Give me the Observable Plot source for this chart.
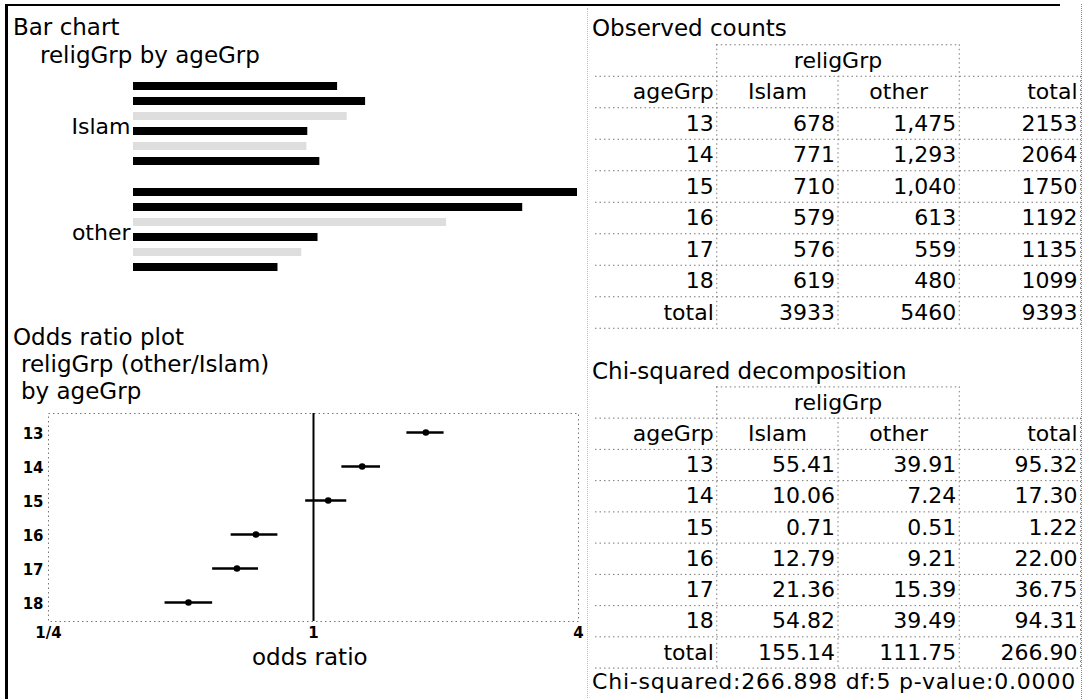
<!DOCTYPE html>
<html>
<head>
<meta charset="utf-8">
<script src="https://cdn.jsdelivr.net/npm/d3@7"></script>
<script src="https://cdn.jsdelivr.net/npm/@observablehq/plot@0.6"></script>
<style>
  body { margin: 0; background: #fff; }
  #page { position: relative; width: 1084px; height: 699px; overflow: hidden; background: #fff;
          font-family: "DejaVu Sans", sans-serif; color: #000; }
  .t { position: absolute; font-size: 23px; line-height: 24px; white-space: nowrap; }
  .p { position: absolute; }
  .p svg { overflow: visible; }
  .edge { position: absolute; }
</style>
</head>
<body>
<div id="page"></div>
<script>
// ---------------- data ----------------
const ageGroups = ["13", "14", "15", "16", "17", "18"];
const religGroups = ["Islam", "other"];
const islamCounts = [678, 771, 710, 579, 576, 619];
const otherCounts = [1475, 1293, 1040, 613, 559, 480];
const ageTotals = [2153, 2064, 1750, 1192, 1135, 1099];
const religTotals = [3933, 5460];
const grandTotal = 9393;

const chiIslam = [55.41, 10.06, 0.71, 12.79, 21.36, 54.82];
const chiOther = [39.91, 7.24, 0.51, 9.21, 15.39, 39.49];
const chiAgeTotals = [95.32, 17.30, 1.22, 22.00, 36.75, 94.31];
const chiReligTotals = [155.14, 111.75];
const chiGrandTotal = 266.90;
const chiSummary = "Chi-squared:266.898 df:5 p-value:0.0000";

const oddsRatio = [1.80, 1.29, 1.08, 0.74, 0.67, 0.52];
const oddsLow   = [1.63, 1.16, 0.96, 0.65, 0.59, 0.46];
const oddsHigh  = [1.98, 1.42, 1.19, 0.83, 0.75, 0.59];
const oddsTicks = [0.25, 1, 4];
const oddsTickLabels = ["1/4", "1", "4"];

const fadedAges = ["15", "17"];   // bars printed very faint in the reference

// ---------------- helpers ----------------
const page = document.getElementById("page");
const FONT = "DejaVu Sans, sans-serif";

function addText(txt, left, centerY, extra = "") {
  const d = document.createElement("div");
  d.className = "t";
  d.textContent = txt;
  d.style.left = left + "px";
  d.style.top = (centerY - 12) + "px";
  if (extra) d.style.cssText += extra;
  page.appendChild(d);
}
function addPlot(svg, left, top) {
  const d = document.createElement("div");
  d.className = "p";
  d.style.left = left + "px";
  d.style.top = top + "px";
  d.appendChild(svg);
  page.appendChild(d);
}
function addEdge(css) {
  const d = document.createElement("div");
  d.className = "edge";
  d.style.cssText = css;
  page.appendChild(d);
}

// ---------------- bar chart ----------------
const barData = religGroups.flatMap((g, gi) =>
  ageGroups.map((a, i) => ({relig: g, age: a, count: gi === 0 ? islamCounts[i] : otherCounts[i]})));

const barPlot = Plot.plot({
  width: 585, height: 290,
  marginTop: 76, marginBottom: 12, marginLeft: 133, marginRight: 8,
  x: {domain: [0, d3.max(otherCounts)], axis: null},
  y: {domain: ageGroups, axis: null, paddingInner: 0.45, paddingOuter: 0.225},
  fy: {domain: religGroups, padding: 0.103},
  style: {fontFamily: FONT, fontSize: "22px", background: "transparent", color: "#000"},
  marks: [
    Plot.barX(barData, {fy: "relig", y: "age", x: "count",
      fill: d => fadedAges.includes(d.age) ? "#dedede" : "#000"}),
    Plot.axisFy({anchor: "left", tickSize: 0, tickPadding: 3, label: null, fontSize: 22, dy: 3})
  ]
});
addPlot(barPlot, 0, 0);

// ---------------- odds ratio plot ----------------
const oddsData = ageGroups.map((a, i) => ({age: a, or: oddsRatio[i], lo: oddsLow[i], hi: oddsHigh[i]}));

const oddsPlot = Plot.plot({
  width: 585, height: 300,
  marginTop: 13, marginBottom: 79, marginLeft: 48, marginRight: 7,
  x: {type: "log", base: 2, domain: [0.25, 4]},
  y: {type: "band", domain: ageGroups, padding: 0},
  style: {fontFamily: FONT, background: "transparent", color: "#000"},
  marks: [
    Plot.frame({stroke: "#777", strokeDasharray: "1.5,3"}),
    Plot.ruleX([1], {stroke: "#000", strokeWidth: 2}),
    Plot.ruleY(oddsData, {y: "age", x1: "lo", x2: "hi", stroke: "#000", strokeWidth: 2.5}),
    Plot.dot(oddsData, {x: "or", y: "age", r: 3.3, fill: "#000"}),
    Plot.axisY({tickSize: 0, tickPadding: 5, label: null, fontSize: 15, fontWeight: "bold", dy: 2}),
    Plot.axisX({ticks: oddsTicks, tickFormat: d => oddsTickLabels[oddsTicks.indexOf(d)],
      tickSize: 0, tickPadding: 6, label: null, fontSize: 15, fontWeight: "bold"})
  ]
});
addPlot(oddsPlot, 0, 400);

// ---------------- tables ----------------
// table grid in cell units: columns 0..3 (ageGrp, Islam, other, total), rows 0..8
const colNames = ["ageGrp", "Islam", "other", "total"];
const hLines = [
  {y: -0.5, x1: 0.5, x2: 2.5},
  ...d3.range(0.5, 9, 1).map(y => ({y, x1: -0.5, x2: 3.5}))
];
const vLines = [
  {x: 0.5, y1: -0.5, y2: 8.5},
  {x: 1.5, y1: 0.5, y2: 8.5},
  {x: 2.5, y1: -0.5, y2: 8.5},
  {x: 3.5, y1: 0.5, y2: 8.5}
];

function tableCells(islam, other, totals, colTotals, grand, fmtIslam, fmtOther, fmtTotal) {
  const cells = [];
  cells.push({row: 0, col: 1.5, text: "religGrp", anchor: "middle"});
  cells.push({row: 1, col: 0, text: colNames[0], anchor: "end"});
  cells.push({row: 1, col: 1, text: colNames[1], anchor: "middle"});
  cells.push({row: 1, col: 2, text: colNames[2], anchor: "middle"});
  cells.push({row: 1, col: 3, text: colNames[3], anchor: "end"});
  ageGroups.forEach((a, i) => {
    cells.push({row: i + 2, col: 0, text: a, anchor: "end"});
    cells.push({row: i + 2, col: 1, text: fmtIslam(islam[i]), anchor: "end"});
    cells.push({row: i + 2, col: 2, text: fmtOther(other[i]), anchor: "end"});
    cells.push({row: i + 2, col: 3, text: fmtTotal(totals[i]), anchor: "end"});
  });
  cells.push({row: 8, col: 0, text: "total", anchor: "end"});
  cells.push({row: 8, col: 1, text: fmtTotal(colTotals[0]), anchor: "end"});
  cells.push({row: 8, col: 2, text: fmtTotal(colTotals[1]), anchor: "end"});
  cells.push({row: 8, col: 3, text: fmtTotal(grand), anchor: "end"});
  return cells;
}

function makeTable(cells, top, height, yTop, yBottom) {
  return Plot.plot({
    width: 504, height,
    marginLeft: 15, marginRight: 4,
    marginTop: yTop - top, marginBottom: top + height - yBottom,
    x: {domain: [-0.5, 3.5], axis: null},
    y: {domain: [8.5, -0.5], axis: null},
    style: {fontFamily: FONT, background: "transparent", color: "#000"},
    marks: [
      Plot.ruleY(hLines, {y: "y", x1: "x1", x2: "x2", stroke: "#7a7a7a", strokeDasharray: "1.5,3"}),
      Plot.ruleX(vLines, {x: "x", y1: "y1", y2: "y2", stroke: "#7a7a7a", strokeDasharray: "1.5,3"}),
      Plot.text(cells.filter(c => c.anchor === "end"),
        {x: d => d.col + 0.5, y: "row", text: "text", textAnchor: "end", dx: -3, fontSize: 22, fill: "#000"}),
      Plot.text(cells.filter(c => c.anchor === "middle"),
        {x: "col", y: "row", text: "text", fontSize: 22, fill: "#000"})
    ]
  });
}

const plain = d => String(d);
const comma = d3.format(",");
const fix2 = d => d.toFixed(2);

const obsCells = tableCells(islamCounts, otherCounts, ageTotals, religTotals, grandTotal, plain, comma, plain);
addPlot(makeTable(obsCells, 0, 340, 44.25, 327.75), 580, 0);

const chiCells = tableCells(chiIslam, chiOther, chiAgeTotals, chiReligTotals, chiGrandTotal, fix2, fix2, fix2);
addPlot(makeTable(chiCells, 340, 345, 386.4, 667.6), 580, 340);

// ---------------- titles / labels ----------------
addText("Bar chart", 13, 27);
addText("religGrp by ageGrp", 40, 55);
addText("Odds ratio plot", 13, 337);
addText("religGrp (other/Islam)", 21, 364);
addText("by ageGrp", 21, 391);
addText("odds ratio", 252, 657);
addText("Observed counts", 592, 28);
addText("Chi-squared decomposition", 592, 371);
addText(chiSummary, 592, 682, "font-size:22px;letter-spacing:0.8px;");

// ---------------- frame edges ----------------
addEdge("left:5px;top:4px;width:2.5px;height:695px;background:#000;");
addEdge("left:5px;top:4px;width:1055px;height:2px;background:#000;");
addEdge("left:1081px;top:4px;width:0;height:695px;border-left:1px dotted #888;");
addEdge("left:587px;top:8px;width:0;height:690px;border-left:1px dotted #bbb;");
</script>
</body>
</html>
